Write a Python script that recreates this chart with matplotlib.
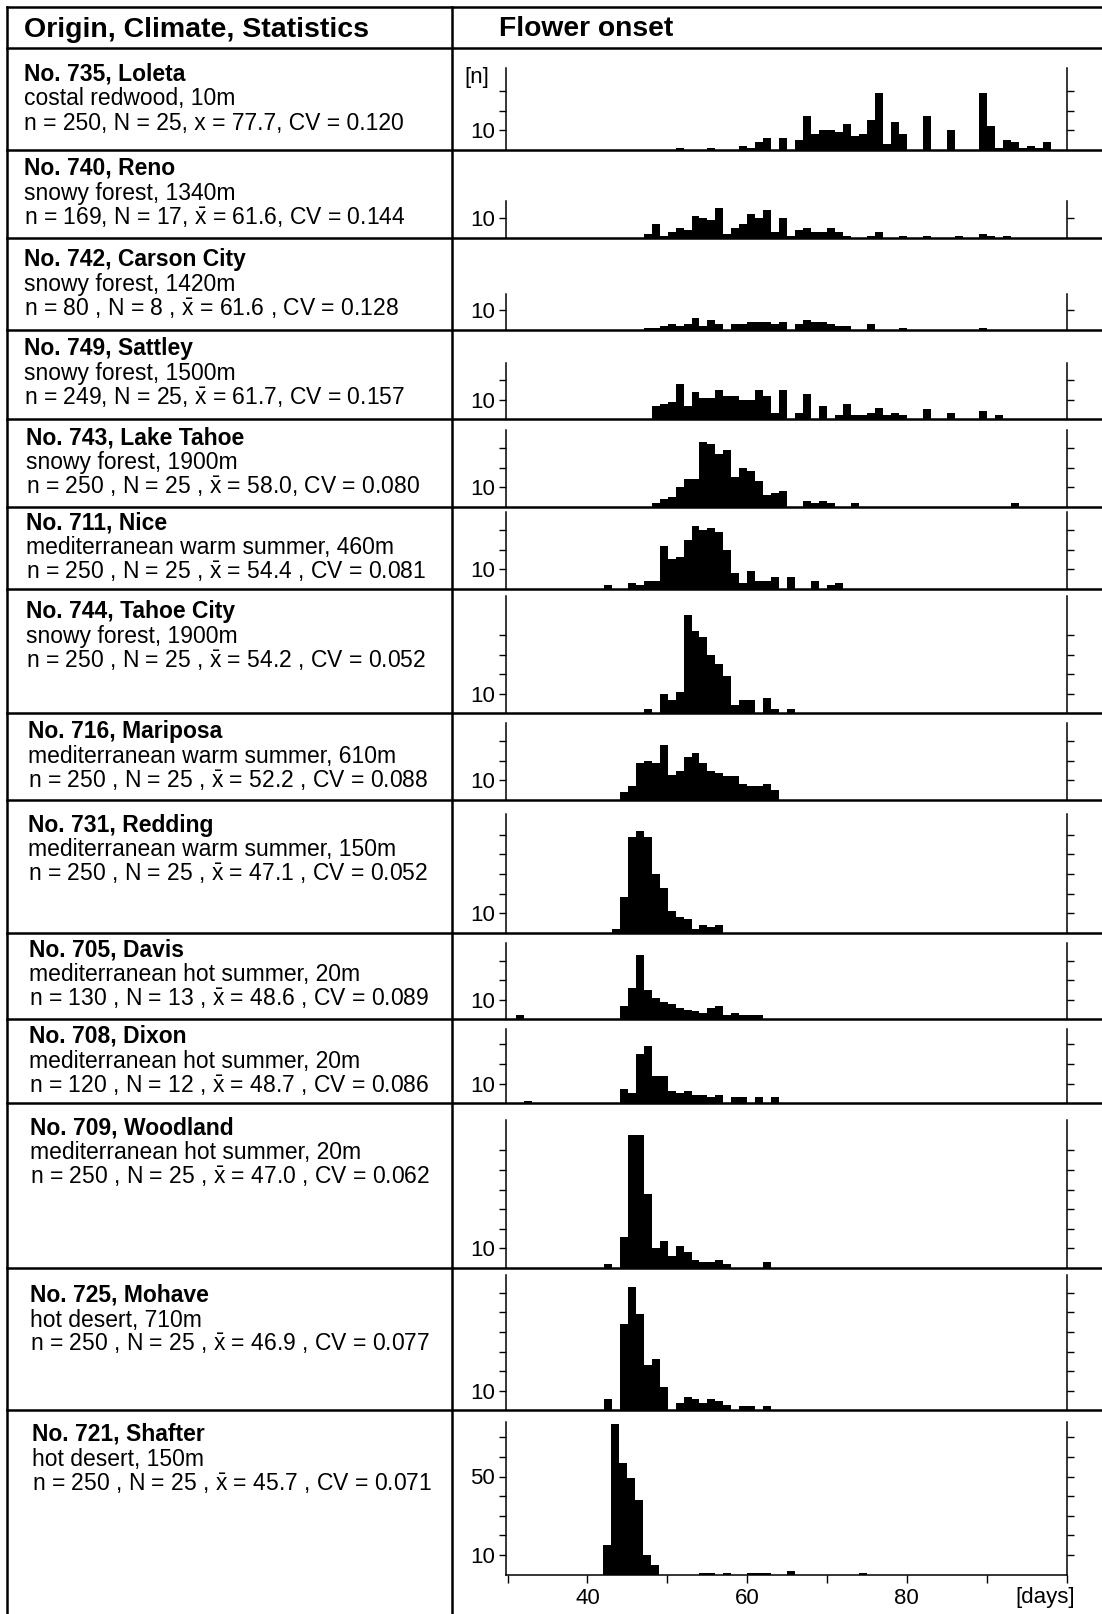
import numpy as np
import matplotlib.pyplot as plt
from matplotlib.lines import Line2D

plt.rcParams['font.family'] = ['Liberation Sans', 'DejaVu Sans']
plt.rcParams['mathtext.fontset'] = 'custom'
plt.rcParams['mathtext.rm'] = 'Liberation Sans'

W, H = 1102, 1614

# Row texts
TITLES = ["No. 735, Loleta", "No. 740, Reno", "No. 742, Carson City", "No. 749, Sattley",
          "No. 743, Lake Tahoe", "No. 711, Nice", "No. 744, Tahoe City", "No. 716, Mariposa",
          "No. 731, Redding", "No. 705, Davis", "No. 708, Dixon", "No. 709, Woodland",
          "No. 725, Mohave", "No. 721, Shafter"]
CLIMATES = ["costal redwood, 10m", "snowy forest, 1340m", "snowy forest, 1420m",
            "snowy forest, 1500m", "snowy forest, 1900m", "mediterranean warm summer, 460m",
            "snowy forest, 1900m", "mediterranean warm summer, 610m",
            "mediterranean warm summer, 150m", "mediterranean hot summer, 20m",
            "mediterranean hot summer, 20m", "mediterranean hot summer, 20m",
            "hot desert, 710m", "hot desert, 150m"]
XB = r"$\bar{\mathrm{x}}$"
STATS = ["n = 250, N = 25, x = 77.7, CV = 0.120",
         f"n = 169, N = 17, {XB} = 61.6, CV = 0.144",
         f"n = 80 , N = 8 , {XB} = 61.6 , CV = 0.128",
         f"n = 249, N = 25, {XB} = 61.7, CV = 0.157",
         f"n = 250 , N = 25 , {XB} = 58.0, CV = 0.080",
         f"n = 250 , N = 25 , {XB} = 54.4 , CV = 0.081",
         f"n = 250 , N = 25 , {XB} = 54.2 , CV = 0.052",
         f"n = 250 , N = 25 , {XB} = 52.2 , CV = 0.088",
         f"n = 250 , N = 25 , {XB} = 47.1 , CV = 0.052",
         f"n = 130 , N = 13 , {XB} = 48.6 , CV = 0.089",
         f"n = 120 , N = 12 , {XB} = 48.7 , CV = 0.086",
         f"n = 250 , N = 25 , {XB} = 47.0 , CV = 0.062",
         f"n = 250 , N = 25 , {XB} = 46.9 , CV = 0.077",
         f"n = 250 , N = 25 , {XB} = 45.7 , CV = 0.071"]

# plants per day of flower onset, first value belongs to FIRST_DAY
FIRST_DAY = [51, 47, 47, 48, 48, 42, 47, 44, 43, 31, 32, 42, 42, 42]
C735 = [1, 0, 0, 0, 1, 0, 0, 0, 2, 1, 4, 6, 0, 6, 0, 5, 17, 8, 10, 10, 9, 13, 7, 8, 15, 29,
        3, 14, 8, 0, 0, 17, 0, 0, 10, 0, 0, 0, 29, 12, 1, 5, 4, 1, 2, 1, 4]
C740 = [2, 7, 1, 3, 5, 4, 11, 10, 9, 15, 2, 5, 7, 12, 10, 14, 3, 10, 1, 4, 5, 3, 3, 5, 3,
        1, 0, 0, 1, 3, 0, 0, 1, 0, 0, 1, 0, 0, 0, 1, 0, 0, 2, 1, 0, 1]
C742 = [1, 1, 2, 3, 2, 3, 6, 2, 5, 3, 0, 3, 3, 4, 4, 4, 3, 4, 0, 3, 5, 4, 4, 3, 2, 2, 0, 0,
        3, 0, 0, 0, 1, 0, 0, 0, 0, 0, 0, 0, 0, 0, 1]
C749 = [7, 8, 9, 18, 7, 14, 11, 11, 15, 12, 12, 10, 10, 15, 12, 3, 15, 0, 3, 13, 0, 7, 0, 2,
        8, 2, 2, 3, 6, 2, 3, 2, 0, 0, 5, 0, 0, 3, 0, 0, 0, 4, 0, 2]
C743 = [2, 4, 5, 10, 14, 14, 33, 32, 27, 29, 15, 20, 18, 13, 6, 7, 8, 0, 0, 3, 2, 3, 2, 0, 0,
        2, 0, 0, 0, 0, 0, 0, 0, 0, 0, 0, 0, 0, 0, 0, 0, 0, 0, 0, 0, 2]
C711 = [2, 0, 0, 3, 2, 4, 4, 22, 15, 16, 25, 32, 30, 31, 29, 20, 8, 3, 9, 4, 4, 6, 0, 6, 0, 0,
        4, 0, 2, 3]
C744 = [2, 0, 10, 7, 11, 50, 42, 39, 30, 25, 19, 4, 7, 7, 0, 8, 2, 0, 2]
C716 = [4, 7, 19, 20, 19, 28, 13, 15, 22, 24, 19, 15, 14, 12, 12, 8, 7, 7, 8, 5]
C731 = [2, 18, 49, 52, 49, 30, 23, 11, 8, 7, 2, 4, 3, 4]
C705 = [2, 0, 0, 0, 0, 0, 0, 0, 0, 0, 0, 0, 0, 7, 16, 33, 15, 11, 9, 8, 6, 5, 4, 3, 6, 7, 2,
        3, 2, 2, 2]
C708 = [1, 0, 0, 0, 0, 0, 0, 0, 0, 0, 0, 0, 7, 5, 25, 29, 14, 14, 6, 5, 6, 4, 4, 3, 4, 0, 3,
        3, 0, 3, 0, 3]
C709 = [2, 0, 16, 68, 68, 38, 10, 14, 6, 11, 8, 4, 3, 3, 4, 2, 0, 0, 0, 0, 3]
C725 = [6, 0, 44, 63, 49, 23, 26, 12, 0, 4, 7, 6, 4, 6, 5, 3, 0, 2, 2, 0, 2]
C721 = [15, 77, 57, 49, 38, 10, 5, 0, 0, 0, 0, 0, 1, 1, 0, 1, 0, 0, 1, 1, 1, 0, 0, 2, 0, 0,
        0, 0, 0, 0, 0, 0, 1]
COUNTS = [C735, C740, C742, C749, C743, C711, C744, C716, C731, C705, C708, C709, C725, C721]

# number of y ticks (every 10 plants) per panel
N_TICKS = [3, 1, 1, 2, 3, 3, 4, 3, 5, 3, 3, 6, 6, 7]
DAY_TICKS = [30, 40, 50, 60, 70, 80, 90, 100]
DAY_LABELS = ['', '40', '', '60', '', '80', '', '']

# layout in pixels, measured from the top
ROW_LINES = [48.3, 149.7, 237.7, 330, 419.3, 506.7, 588.7, 713.3, 800, 932.7, 1019.3,
             1103.2, 1268, 1410.4]
BASELINE = ROW_LINES[1:] + [1574.5]
SPINE_TOP = [68.3, 201, 294, 362.7, 430, 511.7, 596, 722.7, 814, 942.7, 1029.3, 1120.2,
             1274.8, 1421.6]
TEXT_X = [24, 24, 24, 24.5, 26, 26, 26, 28.3, 28.3, 29.3, 29.3, 30, 30, 32.5]
TEXT_BASE = [80, 175, 266, 355.5, 444, 529, 618, 738, 831.7, 956.7, 1043, 1134, 1301.7, 1441]
LINE_GAP = 24.8
X0, X1 = 506, 1066.5
XLIM = (29.8, 99.9)
UNIT = 1.96  # pixels per plant

fig = plt.figure(figsize=(W / 100, H / 100), dpi=100)


def fx(px):
    return px / W


def fy(py):
    return 1 - py / H


for i, counts in enumerate(COUNTS):
    top, base = SPINE_TOP[i], BASELINE[i]
    ax = fig.add_axes([fx(X0), fy(base), fx(X1 - X0), (base - top) / H])
    ax.patch.set_visible(False)
    days = FIRST_DAY[i] + np.arange(len(counts))
    ax.bar(days, counts, width=1.0, align='edge', color='black', linewidth=0)
    ax.set_xlim(*XLIM)
    ax.set_ylim(0, (base - top) / UNIT)
    last = i == len(COUNTS) - 1
    ticks = 10 * np.arange(1, N_TICKS[i] + 1)
    shown = (10, 50) if last else (10,)
    ax.set_yticks(ticks, [str(t) if t in shown else '' for t in ticks])
    ax.tick_params(axis='y', direction='out', length=5, width=1, left=True, right=True,
                   labelleft=True, labelright=False, labelsize=16, pad=3)
    ax.spines['top'].set_visible(False)
    for side in ('left', 'right', 'bottom'):
        ax.spines[side].set_linewidth(1.1)
    if last:
        ax.set_xticks(DAY_TICKS, DAY_LABELS)
        ax.tick_params(axis='x', direction='out', length=6, width=1, labelsize=16, pad=4)
    else:
        ax.set_xticks([])
        ax.spines['bottom'].set_visible(False)

    fig.text(fx(TEXT_X[i]), fy(TEXT_BASE[i]), TITLES[i], fontsize=16.5, fontweight='bold',
             va='baseline')
    fig.text(fx(TEXT_X[i]), fy(TEXT_BASE[i] + LINE_GAP), CLIMATES[i], fontsize=16.5,
             va='baseline')
    fig.text(fx(TEXT_X[i]), fy(TEXT_BASE[i] + 2 * LINE_GAP), STATS[i], fontsize=16.5,
             va='baseline')

fig.text(fx(489), fy(77), '[n]', ha='right', va='center', fontsize=16)
fig.text(fx(1045), fy(1587), '[days]', ha='center', va='top', fontsize=16)

fig.text(fx(24), fy(37), 'Origin, Climate, Statistics', fontsize=20.5, fontweight='bold',
         va='baseline')
fig.text(fx(499), fy(36), 'Flower onset', fontsize=20.3, fontweight='bold', va='baseline')

# table rules
for y in [7] + ROW_LINES:
    fig.add_artist(Line2D([fx(7), 1], [fy(y), fy(y)], color='black', lw=1.8))
for x in (7, 451.5):
    fig.add_artist(Line2D([fx(x), fx(x)], [fy(7), 0], color='black', lw=1.8))

fig.savefig('out.png', dpi=100)
